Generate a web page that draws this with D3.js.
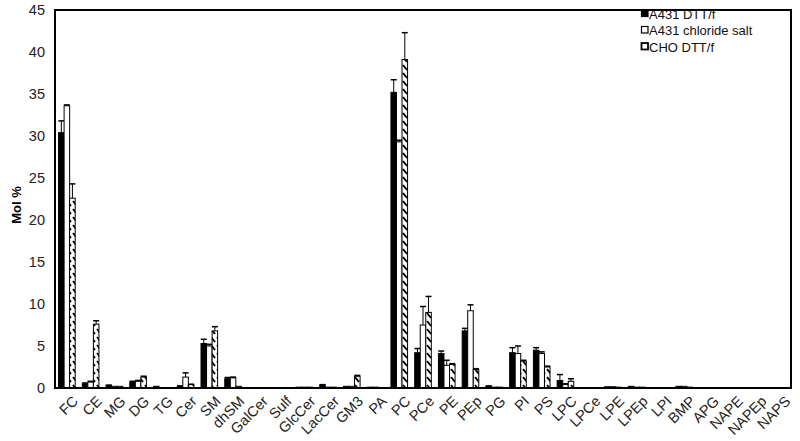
<!DOCTYPE html>
<html>
<head>
<meta charset="utf-8">
<script src="https://cdn.jsdelivr.net/npm/d3@7"></script>
<style>
  body { margin: 0; background: #fff; }
  text { font-family: "Liberation Sans", Arial, sans-serif; }
</style>
</head>
<body>
<div id="chart"></div>
<script>
// Lipid classes
var categories = ["FC", "CE", "MG", "DG", "TG", "Cer", "SM", "dhSM", "GalCer", "Sulf", "GlcCer", "LacCer", "GM3", "PA", "PC", "PCe", "PE", "PEp", "PG", "PI", "PS", "LPC", "LPCe", "LPE", "LPEp", "LPI", "BMP", "APG", "NAPE", "NAPEp", "NAPS"];

var seriesNames = ["A431 DTT/f", "A431 chloride salt", "CHO DTT/f"];

// Mol % values
var a431Dtt = [30.4, 0.5, 0.3, 0.7, 0.2, 0.2, 5.3, 1.1, 0.05, 0.05, 0.1, 0.35, 0.2, 0.1, 35.2, 4.2, 4.1, 6.8, 0.2, 4.2, 4.5, 0.9, 0.05, 0.15, 0.2, 0.05, 0.2, 0, 0, 0, 0];
var a431Chloride = [33.6, 0.7, 0.2, 0.8, 0.05, 1.3, 5.0, 1.2, 0, 0, 0.1, 0.1, 0.2, 0.1, 29.3, 7.5, 2.7, 9.2, 0.1, 4.1, 4.1, 0.4, 0.05, 0.15, 0.1, 0.05, 0.2, 0, 0, 0, 0];
var choDtt = [22.6, 7.6, 0.2, 1.3, 0, 0.4, 6.8, 0.2, 0, 0, 0.1, 0.1, 1.4, 0.05, 39.1, 9.0, 2.8, 2.2, 0.1, 3.2, 2.5, 0.8, 0, 0.1, 0.1, 0, 0.1, 0, 0, 0, 0];

// Error (upper) values
var a431DttErr = [1.4, 0.1, 0.05, 0.1, 0, 0.05, 0.5, 0.15, 0, 0, 0, 0.05, 0, 0, 1.5, 0.5, 0.3, 0.3, 0.05, 0.6, 0.3, 0.7, 0, 0, 0, 0, 0, 0, 0, 0, 0];
var a431ChlorideErr = [0.1, 0.1, 0, 0.1, 0, 0.5, 0.2, 0.1, 0, 0, 0, 0, 0, 0, 0.2, 2.2, 0.6, 0.7, 0, 0.9, 0.2, 0.1, 0, 0, 0, 0, 0, 0, 0, 0, 0];
var choDttErr = [1.7, 0.4, 0, 0.1, 0, 0.05, 0.5, 0, 0, 0, 0, 0, 0.1, 0, 3.2, 1.9, 0.1, 0.1, 0, 0.1, 0.1, 0.3, 0, 0, 0, 0, 0, 0, 0, 0, 0];

var yTicks = [0, 5, 10, 15, 20, 25, 30, 35, 40, 45];

var width = 800, height = 441;
var margin = {top: 10, right: 9, bottom: 53, left: 55};

var svg = d3.select("#chart").append("svg")
    .attr("width", width)
    .attr("height", height);

// Hatch pattern for the CHO series
var defs = svg.append("defs");
var pat = defs.append("pattern")
    .attr("id", "hatch")
    .attr("patternUnits", "userSpaceOnUse")
    .attr("width", 6)
    .attr("height", 8);
pat.append("rect").attr("width", 6).attr("height", 8).attr("fill", "white");
pat.append("path")
    .attr("d", "M1,1 L5,6")
    .attr("stroke", "black")
    .attr("stroke-width", 2);

var x = d3.scaleBand()
    .domain(categories)
    .range([margin.left, width - margin.right])
    .paddingInner(0.3)
    .paddingOuter(0.15);

var xs = d3.scaleBand()
    .domain([0, 1, 2])
    .range([0, x.bandwidth()]);

var y = d3.scaleLinear()
    .domain([0, 45])
    .range([height - margin.bottom, margin.top]);

var series = [
    {values: a431Dtt, err: a431DttErr, fill: "black"},
    {values: a431Chloride, err: a431ChlorideErr, fill: "white"},
    {values: choDtt, err: choDttErr, fill: "url(#hatch)"}
];

// Bars
series.forEach(function(s, si) {
    var g = svg.append("g");
    var rows = categories.map((c, i) => ({cat: c, v: s.values[i], e: s.err[i]}));
    g.selectAll("rect")
        .data(rows)
        .join("rect")
            .attr("x", d => x(d.cat) + xs(si))
            .attr("y", d => y(d.v))
            .attr("width", xs.bandwidth())
            .attr("height", d => y(0) - y(d.v))
            .attr("fill", s.fill)
            .attr("stroke", "black")
            .attr("stroke-width", 1);

    // Error bars (upper only)
    var eb = rows.filter(d => d.e > 0);
    var cx = d => x(d.cat) + xs(si) + xs.bandwidth() / 2;
    g.selectAll("line.stem")
        .data(eb)
        .join("line")
            .attr("class", "stem")
            .attr("x1", cx)
            .attr("x2", cx)
            .attr("y1", d => y(d.v))
            .attr("y2", d => y(d.v + d.e))
            .attr("stroke", "black")
            .attr("stroke-width", 1);
    g.selectAll("line.cap")
        .data(eb)
        .join("line")
            .attr("class", "cap")
            .attr("x1", d => cx(d) - 3)
            .attr("x2", d => cx(d) + 3)
            .attr("y1", d => y(d.v + d.e))
            .attr("y2", d => y(d.v + d.e))
            .attr("stroke", "black")
            .attr("stroke-width", 1.5);
});

// Plot frame
svg.append("rect")
    .attr("x", margin.left)
    .attr("y", margin.top)
    .attr("width", width - margin.left - margin.right)
    .attr("height", height - margin.top - margin.bottom)
    .attr("fill", "none")
    .attr("stroke", "black")
    .attr("stroke-width", 2);

// Y axis labels
var yAxis = svg.append("g")
    .attr("transform", "translate(" + margin.left + ",0)")
    .call(d3.axisLeft(y).tickValues(yTicks).tickSize(0).tickPadding(10));
yAxis.select(".domain").remove();
yAxis.selectAll("text")
    .attr("font-size", 14.5)
    .attr("fill", "#222")
    .style("font-family", "Liberation Sans, Arial, sans-serif");

svg.append("text")
    .attr("transform", "translate(21,205) rotate(-90)")
    .attr("text-anchor", "middle")
    .attr("font-size", 13)
    .attr("font-weight", "bold")
    .text("Mol %");

// X labels, rotated 45 degrees via an axis
var xAxis = svg.append("g")
    .attr("transform", "translate(6," + (y(0) + 8) + ")")
    .call(d3.axisBottom(x).tickSize(0).tickPadding(0));
xAxis.select(".domain").remove();
xAxis.selectAll(".tick text")
    .attr("y", 0)
    .attr("x", 0)
    .attr("dy", "0.6em")
    .attr("transform", "rotate(-45)")
    .style("text-anchor", "end")
    .style("font-size", "14.5px")
    .style("font-family", "Liberation Sans, Arial, sans-serif")
    .attr("fill", "#222");

// Legend
var legend = svg.append("g").attr("transform", "translate(641,14)");
var fills = ["black", "white", "white"];
seriesNames.forEach(function(name, i) {
    var row = legend.append("g").attr("transform", "translate(0," + (i * 16.5) + ")");
    row.append("rect")
        .attr("x", 0.5).attr("y", -4)
        .attr("width", 6.5).attr("height", 6.5)
        .attr("fill", fills[i])
        .attr("stroke", "black")
        .attr("stroke-width", i == 2 ? 1.8 : 1.2);
    row.append("text")
        .attr("x", 8)
        .attr("y", 0)
        .attr("dy", "0.35em")
        .attr("font-size", 13)
        .attr("fill", "#111")
        .text(name);
});
</script>
</body>
</html>
